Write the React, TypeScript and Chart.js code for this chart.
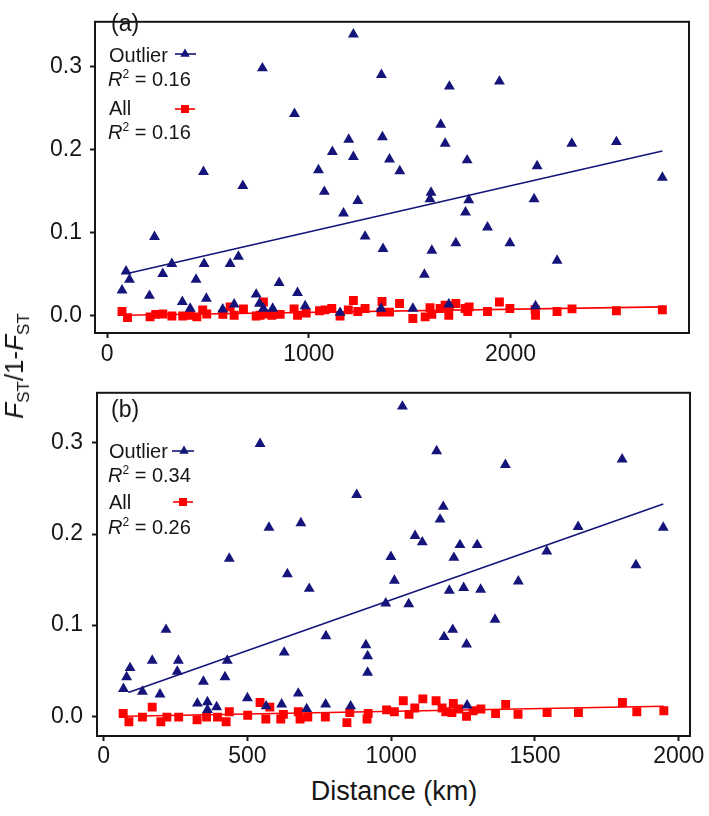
import React, { useEffect, useRef } from 'react';
import { Chart, registerables } from 'chart.js';
Chart.register(...registerables);

// ---------- Panel (a) data ----------
const distOutlierA = [74, 94, 111, 210, 235, 276, 321, 373, 412, 441, 478, 481, 492, 573, 610, 630, 651, 673, 739, 755, 770, 775, 821, 853, 929, 944, 982, 1048, 1077, 1117, 1155, 1172, 1198, 1221, 1221, 1243, 1279, 1358, 1360, 1365, 1368, 1400, 1451, 1516, 1573, 1601, 1606, 1610, 1654, 1676, 1694, 1697, 1729, 1777, 1785, 1793, 1886, 1945, 1997, 2117, 2124, 2132, 2231, 2304, 2525, 2753];
const fstOutlierA = [0.030, 0.053, 0.043, 0.0235, 0.0945, 0.050, 0.062, 0.016, 0.008, 0.043, 0.173, 0.062, 0.020, 0.007, 0.062, 0.013, 0.0706, 0.156, 0.025, 0.014, 0.298, 0.008, 0.008, 0.039, 0.243, 0.027, 0.011, 0.175, 0.149, 0.197, 0.003, 0.123, 0.212, 0.339, 0.191, 0.138, 0.095, 0.008, 0.290, 0.215, 0.080, 0.188, 0.174, 0.008, 0.049, 0.140, 0.148, 0.078, 0.230, 0.207, 0.013, 0.276, 0.087, 0.124, 0.187, 0.139, 0.106, 0.282, 0.087, 0.140, 0.011, 0.180, 0.066, 0.207, 0.209, 0.166];
const distAllA = [74, 101, 213, 241, 276, 321, 375, 412, 445, 474, 494, 574, 610, 630, 676, 739, 759, 775, 778, 817, 858, 927, 944, 987, 1053, 1081, 1114, 1155, 1196, 1221, 1243, 1279, 1358, 1363, 1400, 1450, 1516, 1577, 1601, 1610, 1651, 1676, 1694, 1697, 1729, 1775, 1788, 1795, 1886, 1945, 1997, 2122, 2124, 2231, 2305, 2525, 2753];
const fstAllA = [0.0045, -0.003, -0.002, 0.001, 0.0015, -0.001, -0.001, 0.0, -0.002, 0.0064, 0.0015, 0.001, 0.010, 0.0, 0.0076, -0.001, 0.0, 0.016, 0.0015, 0.0, 0.001, 0.0076, 0.0, 0.0026, 0.0053, 0.0064, 0.008, -0.001, 0.0064, 0.0178, 0.0045, 0.008, 0.0037, 0.0166, 0.0037, 0.014, -0.004, -0.002, 0.009, 0.001, 0.008, 0.012, 0.0, 0.011, 0.014, 0.008, 0.0045, 0.010, 0.0045, 0.016, 0.008, 0.0065, 0.0, 0.0045, 0.0076, 0.0053, 0.0065];
const fitOutlierAX = [111, 2753];
const fitOutlierAY = [0.051, 0.198];
const fitAllAX = [80, 2753];
const fitAllAY = [0.0, 0.010];
const r2OutlierA = '0.16';
const r2AllA = '0.16';
const xTicksA = [0, 1000, 2000];

// ---------- Panel (b) data ----------
const distOutlierB = [69, 80, 92, 135, 169, 196, 217, 256, 260, 326, 347, 361, 361, 393, 422, 430, 437, 500, 544, 565, 575, 619, 628, 639, 677, 686, 706, 715, 772, 773, 859, 880, 912, 918, 918, 981, 999, 1011, 1039, 1061, 1083, 1108, 1158, 1170, 1181, 1184, 1202, 1214, 1218, 1239, 1252, 1262, 1264, 1299, 1311, 1361, 1397, 1442, 1541, 1650, 1803, 1851, 1946];
const fstOutlierB = [0.030, 0.043, 0.053, 0.027, 0.061, 0.024, 0.095, 0.049, 0.061, 0.014, 0.038, 0.0155, 0.007, 0.010, 0.043, 0.061, 0.173, 0.020, 0.299, 0.011, 0.207, 0.013, 0.070, 0.156, 0.025, 0.212, 0.008, 0.140, 0.013, 0.088, 0.011, 0.243, 0.078, 0.066, 0.048, 0.124, 0.175, 0.149, 0.340, 0.123, 0.198, 0.191, 0.291, 0.216, 0.230, 0.087, 0.138, 0.095, 0.174, 0.188, 0.141, 0.079, 0.012, 0.188, 0.139, 0.106, 0.276, 0.148, 0.181, 0.208, 0.282, 0.166, 0.207];
const distAllB = [68, 88, 135, 169, 199, 220, 261, 325, 358, 396, 426, 437, 501, 544, 564, 578, 616, 625, 677, 683, 710, 771, 846, 856, 916, 920, 984, 1011, 1042, 1062, 1082, 1110, 1156, 1177, 1190, 1216, 1211, 1235, 1262, 1285, 1312, 1363, 1398, 1441, 1542, 1651, 1804, 1854, 1948];
const fstAllB = [0.003, -0.006, -0.001, 0.010, -0.006, -0.001, -0.001, -0.004, -0.001, -0.001, -0.006, 0.005, 0.001, 0.015, -0.003, 0.010, -0.003, 0.002, 0.005, -0.003, -0.001, -0.001, -0.007, 0.004, -0.003, 0.003, 0.007, 0.005, 0.017, 0.002, 0.009, 0.019, 0.017, 0.009, 0.005, 0.014, 0.004, 0.008, 0.0, 0.006, 0.008, 0.003, 0.013, 0.002, 0.004, 0.004, 0.015, 0.005, 0.006];
const fitOutlierBX = [86, 1946];
const fitOutlierBY = [0.026, 0.233];
const fitAllBX = [80, 1948];
const fitAllBY = [0.0, 0.011];
const r2OutlierB = '0.34';
const r2AllB = '0.26';
const xTicksB = [0, 500, 1000, 1500, 2000];

const yTicks = [0, 0.1, 0.2, 0.3];

const FONT = "'Liberation Sans', Arial, Helvetica, sans-serif";
const NAVY = '#14147a';
const RED = '#ff0000';
const INK = '#161616';

const pts = (xs: number[], ys: number[]) => xs.map((x, i) => ({ x, y: ys[i] }));

type Marker = { x1: number; x2: number; y: number; cx: number };

const boxPlugin = {
  id: 'panelBox',
  afterDraw(chart: any, _args: any, opts: any) {
    const { ctx, chartArea: a } = chart;
    ctx.save();
    ctx.strokeStyle = INK;
    ctx.lineWidth = 2;
    ctx.strokeRect(a.left, a.top, a.right - a.left, a.bottom - a.top);
    const mo: Marker = opts.outlier;
    const ma: Marker = opts.all;
    ctx.strokeStyle = NAVY;
    ctx.lineWidth = 1.6;
    ctx.beginPath();
    ctx.moveTo(mo.x1, mo.y);
    ctx.lineTo(mo.x2, mo.y);
    ctx.stroke();
    const r = 5.4;
    ctx.fillStyle = NAVY;
    ctx.beginPath();
    ctx.moveTo(mo.cx, mo.y - r);
    ctx.lineTo(mo.cx + r * 0.866, mo.y + r / 2);
    ctx.lineTo(mo.cx - r * 0.866, mo.y + r / 2);
    ctx.closePath();
    ctx.fill();
    ctx.strokeStyle = RED;
    ctx.beginPath();
    ctx.moveTo(ma.x1, ma.y);
    ctx.lineTo(ma.x2, ma.y);
    ctx.stroke();
    ctx.fillStyle = RED;
    ctx.fillRect(ma.cx - 4, ma.y - 4, 8, 8);
    ctx.restore();
  },
};

type Spec = {
  outX: number[]; outY: number[]; allX: number[]; allY: number[];
  fOX: number[]; fOY: number[]; fAX: number[]; fAY: number[];
  xTicks: number[];
  xMin: number; xMax: number; yMin: number; yMax: number;
  padTop: number; padRight: number; yAxisW: number; xAxisH: number;
  yLabelPad: number; xLabelPad: number;
  outlierMarker: Marker; allMarker: Marker;
};

function buildConfig(s: Spec): any {
  const tickFont = { family: FONT, size: 23 };
  return {
    type: 'scatter',
    data: {
      datasets: [
        {
          label: 'Outlier',
          data: pts(s.outX, s.outY),
          pointStyle: 'triangle',
          pointRadius: 6.3,
          backgroundColor: NAVY,
          borderColor: NAVY,
          borderWidth: 0,
        },
        {
          label: 'All',
          data: pts(s.allX, s.allY),
          pointStyle: 'rect',
          pointRadius: 6.3,
          backgroundColor: RED,
          borderColor: RED,
          borderWidth: 0,
        },
        {
          label: 'Outlier fit',
          data: pts(s.fOX, s.fOY),
          showLine: true,
          pointRadius: 0,
          borderColor: NAVY,
          borderWidth: 1.6,
        },
        {
          label: 'All fit',
          data: pts(s.fAX, s.fAY),
          showLine: true,
          pointRadius: 0,
          borderColor: RED,
          borderWidth: 1.6,
        },
      ],
    },
    options: {
      responsive: false,
      animation: false,
      devicePixelRatio: 1,
      layout: { padding: { top: s.padTop, right: s.padRight, left: 0, bottom: 0 } },
      plugins: {
        legend: { display: false },
        tooltip: { enabled: false },
        panelBox: { outlier: s.outlierMarker, all: s.allMarker },
      },
      scales: {
        x: {
          type: 'linear',
          min: s.xMin,
          max: s.xMax,
          afterBuildTicks: (sc: any) => { sc.ticks = s.xTicks.map((v) => ({ value: v })); },
          afterFit: (sc: any) => { sc.height = s.xAxisH; },
          border: { display: false },
          grid: { drawOnChartArea: false, drawTicks: true, tickLength: 5, tickWidth: 2, tickColor: INK, color: INK },
          ticks: {
            autoSkip: false,
            maxRotation: 0,
            padding: s.xLabelPad,
            color: INK,
            font: tickFont,
            callback: (v: any) => String(Math.round(Number(v))),
          },
        },
        y: {
          type: 'linear',
          min: s.yMin,
          max: s.yMax,
          afterBuildTicks: (sc: any) => { sc.ticks = yTicks.map((v) => ({ value: v })); },
          afterFit: (sc: any) => { sc.width = s.yAxisW; },
          border: { display: false },
          grid: { drawOnChartArea: false, drawTicks: true, tickLength: 5, tickWidth: 2, tickColor: INK, color: INK },
          ticks: {
            autoSkip: false,
            padding: s.yLabelPad,
            color: INK,
            font: tickFont,
            callback: (v: any) => Number(v).toFixed(1),
          },
        },
      },
    },
    plugins: [boxPlugin],
  };
}

const specA: Spec = {
  outX: distOutlierA, outY: fstOutlierA, allX: distAllA, allY: fstAllA,
  fOX: fitOutlierAX, fOY: fitOutlierAY, fAX: fitAllAX, fAY: fitAllAY,
  xTicks: xTicksA,
  xMin: -60, xMax: 2885, yMin: -0.0215, yMax: 0.354,
  padTop: 2, padRight: 20, yAxisW: 95, xAxisH: 372 - 333,
  yLabelPad: 8, xLabelPad: 3,
  outlierMarker: { x1: 175, x2: 196, y: 54, cx: 185 },
  allMarker: { x1: 175, x2: 195, y: 109, cx: 185 },
};

const B_TOP = 370;
const specB: Spec = {
  outX: distOutlierB, outY: fstOutlierB, allX: distAllB, allY: fstAllB,
  fOX: fitOutlierBX, fOY: fitOutlierBY, fAX: fitAllBX, fAY: fitAllBY,
  xTicks: xTicksB,
  xMin: -23, xMax: 2039, yMin: -0.0217, yMax: 0.355,
  padTop: 388 - B_TOP, padRight: 19, yAxisW: 97, xAxisH: 400 - (736 - B_TOP),
  yLabelPad: 9, xLabelPad: 2,
  outlierMarker: { x1: 172, x2: 194, y: 451 - B_TOP, cx: 184 },
  allMarker: { x1: 173, x2: 193, y: 502 - B_TOP, cx: 183 },
};

const Line = ({ left, cy, size = 20, children }: any) => (
  <div style={{ position: 'absolute', left, top: cy - size / 2, fontSize: size, lineHeight: `${size}px`, whiteSpace: 'nowrap' }}>
    {children}
  </div>
);

const R2 = ({ v }: { v: string }) => (
  <>
    <i>R</i>
    <span style={{ fontSize: 12, position: 'relative', top: -8 }}>2</span>
    {` = ${v}`}
  </>
);

const Sub = ({ children }: any) => (
  <span style={{ fontSize: 17, position: 'relative', top: 6 }}>{children}</span>
);

export default function App() {
  const refA = useRef<HTMLCanvasElement>(null);
  const refB = useRef<HTMLCanvasElement>(null);
  useEffect(() => {
    const a = new Chart(refA.current as HTMLCanvasElement, buildConfig(specA));
    const b = new Chart(refB.current as HTMLCanvasElement, buildConfig(specB));
    return () => {
      a.destroy();
      b.destroy();
    };
  }, []);
  return (
    <div style={{ position: 'absolute', left: 0, top: 0, width: 709, height: 816, background: '#fff', fontFamily: FONT, color: INK, overflow: 'hidden' }}>
      <canvas ref={refA} width={709} height={372} style={{ position: 'absolute', left: 0, top: 0 }} />
      <canvas ref={refB} width={709} height={400} style={{ position: 'absolute', left: 0, top: B_TOP }} />

      <Line left={111} cy={23} size={23}>(a)</Line>
      <Line left={109} cy={55}>Outlier</Line>
      <Line left={108} cy={79}><R2 v={r2OutlierA} /></Line>
      <Line left={109} cy={108}>All</Line>
      <Line left={108} cy={132}><R2 v={r2AllA} /></Line>

      <Line left={111} cy={409} size={23}>(b)</Line>
      <Line left={109} cy={451}>Outlier</Line>
      <Line left={108} cy={475}><R2 v={r2OutlierB} /></Line>
      <Line left={109} cy={502}>All</Line>
      <Line left={108} cy={527}><R2 v={r2AllB} /></Line>

      <div style={{ position: 'absolute', left: 16, top: 366, transform: 'translate(-50%, -50%) rotate(-90deg)', fontSize: 26, lineHeight: '30px', whiteSpace: 'nowrap' }}>
        <i>F</i><Sub>ST</Sub>/1-<i>F</i><Sub>ST</Sub>
      </div>

      <div style={{ position: 'absolute', left: 394, top: 791, transform: 'translate(-50%, -50%)', fontSize: 27, lineHeight: '30px', whiteSpace: 'nowrap' }}>
        Distance (km)
      </div>
    </div>
  );
}
